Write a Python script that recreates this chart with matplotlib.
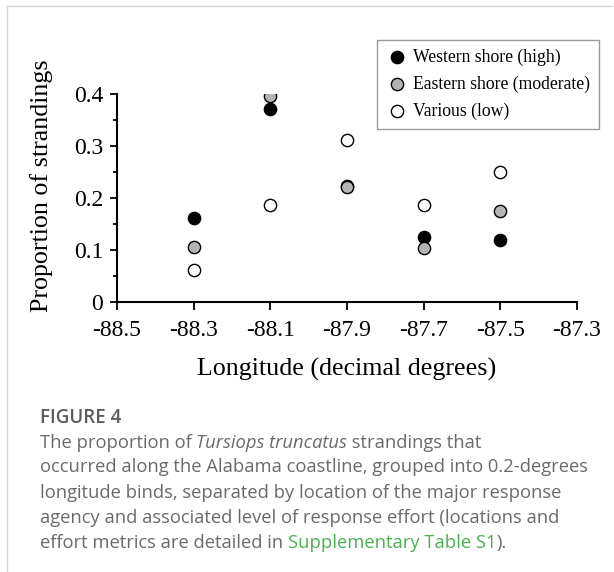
import matplotlib
matplotlib.use("Agg")
import matplotlib.pyplot as plt
from matplotlib.lines import Line2D
from matplotlib.ticker import MultipleLocator

# longitude bins (decimal degrees)
longitude = [-88.3, -88.1, -87.9, -87.7, -87.5]
# proportion of strandings per response agency
western = [0.162, 0.371, 0.222, 0.125, 0.119]
eastern = [0.106, 0.396, 0.220, 0.103, 0.175]
various = [0.062, 0.187, 0.311, 0.187, 0.250]

labels = ["Western shore (high)", "Eastern shore (moderate)", "Various (low)"]
x_ticks = [-88.5, -88.3, -88.1, -87.9, -87.7, -87.5, -87.3]
y_ticks = [0, 0.1, 0.2, 0.3, 0.4]

W, H = 614, 572
fig = plt.figure(figsize=(W / 100, H / 100), dpi=100)
plt.rcParams['font.family'] = ['Liberation Serif', 'DejaVu Serif']

# axes placed in pixel coords of the reference
ax = fig.add_axes([117 / W, (H - 301.7) / H, (577 - 117) / W, (301.7 - 94) / H])

ms = 78
ax.scatter(longitude, western, s=ms, c='black', edgecolors='black', linewidths=1.0,
           label=labels[0], zorder=3)
ax.scatter(longitude, eastern, s=ms, c='#b4b4b4', edgecolors='black', linewidths=1.0,
           label=labels[1], zorder=4)
ax.scatter(longitude, various, s=ms, c='white', edgecolors='black', linewidths=1.0,
           label=labels[2], zorder=5)

ax.set_xlim(-88.5, -87.3)
ax.set_ylim(0, 0.4)
ax.set_xticks(x_ticks)
ax.set_xticklabels([f"{t:.1f}" for t in x_ticks])
ax.set_yticks(y_ticks)
ax.set_yticklabels(["0"] + [f"{t:.1f}" for t in y_ticks[1:]])
ax.yaxis.set_minor_locator(MultipleLocator(0.05))

for s in ['top', 'right']:
    ax.spines[s].set_visible(False)
for s in ['left', 'bottom']:
    ax.spines[s].set_linewidth(1.5)

ax.tick_params(axis='x', which='major', direction='out', length=5.5, width=1.3,
               labelsize=17, pad=8)
ax.tick_params(axis='y', which='major', direction='out', length=5, width=1.3,
               labelsize=17, pad=5)
ax.tick_params(axis='y', which='minor', direction='out', length=3, width=1.3)

ax.set_xlabel("Longitude (decimal degrees)", fontsize=18.7)
ax.set_ylabel("Proportion of strandings", fontsize=18.7)
ax.xaxis.set_label_coords(0.5, (301.7 - 358) / 207.7)
ax.yaxis.set_label_coords((53 - 117) / 460, (301.7 - 186) / 207.7)

leg = fig.legend(loc='upper right', bbox_to_anchor=(599.3 / W, (H - 40) / H),
                 bbox_transform=fig.transFigure, fontsize=12.7, frameon=True,
                 fancybox=False, edgecolor='#808080', handletextpad=0.35,
                 labelspacing=0.55, borderpad=0.5, handlelength=1.2,
                 borderaxespad=0)
leg.get_frame().set_linewidth(1.0)

# card border (top and left edges)
fig.add_artist(Line2D([7 / W, 612 / W], [(H - 6) / H, (H - 6) / H],
                      transform=fig.transFigure, color='#d6d6d6', lw=1))
fig.add_artist(Line2D([7 / W, 7 / W], [(H - 6) / H, 0],
                      transform=fig.transFigure, color='#d6d6d6', lw=1))

# caption
cap_font = ['Open Sans', 'DejaVu Sans']
cap_size = 13.2
cap_col = '#6a6a6a'
fig.text(40 / W, (H - 418) / H, "FIGURE 4", family=cap_font, fontsize=13.5,
         fontweight=600, color='#5c5c5c', va='center')

lines = [
    [("The proportion of ", 'normal', cap_col), ("Tursiops truncatus", 'italic', cap_col),
     (" strandings that", 'normal', cap_col)],
    [("occurred along the Alabama coastline, grouped into 0.2-degrees", 'normal', cap_col)],
    [("longitude binds, separated by location of the major response", 'normal', cap_col)],
    [("agency and associated level of response effort (locations and", 'normal', cap_col)],
    [("effort metrics are detailed in ", 'normal', cap_col),
     ("Supplementary Table S1", 'normal', '#4caf50'), (").", 'normal', cap_col)],
]
line_y = [443, 467.5, 492.5, 518, 543]

renderer = fig.canvas.get_renderer()
for runs, yy in zip(lines, line_y):
    x = 40
    for txt, style, col in runs:
        t = fig.text(x / W, (H - yy) / H, txt, family=cap_font, fontsize=cap_size,
                     style=style, color=col, va='center')
        x += t.get_window_extent(renderer).width

fig.savefig("out.png", dpi=100)
